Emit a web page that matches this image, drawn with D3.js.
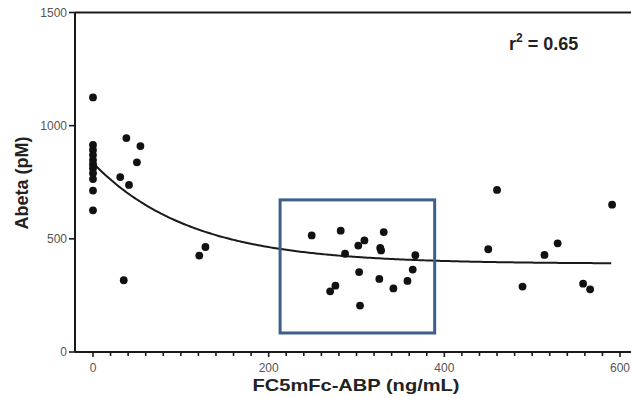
<!DOCTYPE html>
<html>
<head>
<meta charset="utf-8">
<script src="https://cdn.jsdelivr.net/npm/d3@7"></script>
<style>
  body { margin: 0; background: #fff; }
  text { font-family: Arial, "Liberation Sans", sans-serif; }
</style>
</head>
<body>
<div id="chart"></div>
<script>
// measured values (ng/mL, pM)
var concX = [0,0,0,0,0,0,0,0,0,0,0,
  38,54,50,31,41,128,121,35,
  249,282,309,302,331,327,328,287,367,303,364,326,358,342,276,270,304,
  460,591,450,529,514,489,558,566];
var abetaY = [1125,915,893,870,848,830,812,790,764,713,626,
  945,910,838,773,738,464,426,317,
  515,536,493,470,530,460,449,434,428,353,364,323,314,281,293,268,205,
  716,651,454,480,429,289,302,277];

var xTicks = [0, 200, 400, 600];
var yTicks = [0, 500, 1000, 1500];
var boxX = [213, 389];
var boxY = [84, 672];

// one phase decay fit
var fitY0 = 835, fitPlateau = 390, fitK = 0.009, fitMaxX = 591;
var rSquared = "0.65";

var width = 631, height = 398;

var svg = d3.select("#chart").append("svg")
    .attr("width", width).attr("height", height);

var x = d3.scaleLinear().domain([0, 600]).range([93, 620]);
var y = d3.scaleLinear().domain([0, 1500]).range([352, 12.5]);

var ink = "#1a1a1a";

// axes lines
svg.append("line").attr("x1", 75).attr("x2", width).attr("y1", y(0)).attr("y2", y(0))
    .attr("stroke", ink).attr("stroke-width", 2);
svg.append("line").attr("x1", 75).attr("x2", 75).attr("y1", y(1500)).attr("y2", y(0))
    .attr("stroke", ink).attr("stroke-width", 2);
svg.append("line").attr("x1", 75).attr("x2", width).attr("y1", y(1500)).attr("y2", y(1500))
    .attr("stroke", ink).attr("stroke-width", 2);

// x ticks
var minor = d3.range(0, 601, 20);
svg.selectAll(".xminor").data(minor).enter().append("line")
    .attr("x1", function(d){ return x(d); }).attr("x2", function(d){ return x(d); })
    .attr("y1", y(0)).attr("y2", function(d){ return y(0) + (d % 200 === 0 ? 5 : 4); })
    .attr("stroke", ink).attr("stroke-width", 1.6);

svg.selectAll(".xlab").data(xTicks).enter().append("text")
    .attr("x", function(d){ return x(d); }).attr("y", 372)
    .attr("text-anchor", "middle").attr("font-size", 12).attr("fill", "#555")
    .text(function(d){ return d; });

// y ticks
svg.selectAll(".ytick").data(yTicks).enter().append("line")
    .attr("x1", 69).attr("x2", 75)
    .attr("y1", function(d){ return y(d); }).attr("y2", function(d){ return y(d); })
    .attr("stroke", ink).attr("stroke-width", 1.6);

svg.selectAll(".ylab").data(yTicks).enter().append("text")
    .attr("x", 67).attr("y", function(d){ return y(d) + 4; })
    .attr("text-anchor", "end").attr("font-size", 12).attr("fill", "#555")
    .text(function(d){ return d; });

// axis titles
svg.append("text").attr("x", 356).attr("y", 391)
    .attr("text-anchor", "middle").attr("font-size", 17).attr("font-weight", "bold")
    .attr("fill", "#222").attr("textLength", 207).attr("lengthAdjust", "spacingAndGlyphs")
    .text("FC5mFc-ABP (ng/mL)");

svg.append("text").attr("transform", "translate(28,183) rotate(-90)")
    .attr("text-anchor", "middle").attr("font-size", 18).attr("font-weight", "bold")
    .attr("fill", "#222")
    .text("Abeta (pM)");

// fit curve
var curveData = d3.range(0, fitMaxX + 1, 2).map(function(v){
  return [v, fitPlateau + (fitY0 - fitPlateau) * Math.exp(-fitK * v)];
});
svg.append("path").datum(curveData)
    .attr("d", d3.line().x(function(d){ return x(d[0]); }).y(function(d){ return y(d[1]); }))
    .attr("fill", "none").attr("stroke", ink).attr("stroke-width", 2);

// points
svg.selectAll("circle").data(d3.zip(concX, abetaY)).enter().append("circle")
    .attr("cx", function(d){ return x(d[0]); })
    .attr("cy", function(d){ return y(d[1]); })
    .attr("r", 3.9).attr("fill", "#111");

// highlight box
svg.append("rect")
    .attr("x", x(boxX[0])).attr("y", y(boxY[1]))
    .attr("width", x(boxX[1]) - x(boxX[0])).attr("height", y(boxY[0]) - y(boxY[1]))
    .attr("fill", "none").attr("stroke", "#3e5f8a").attr("stroke-width", 3);

// r squared
var rt = svg.append("text").attr("x", 509).attr("y", 50)
    .attr("font-size", 18).attr("font-weight", "bold").attr("fill", "#222");
rt.append("tspan").text("r");
rt.append("tspan").attr("dy", -8).attr("font-size", 12).text("2");
rt.append("tspan").attr("dy", 8).text(" = " + rSquared);
</script>
</body>
</html>
